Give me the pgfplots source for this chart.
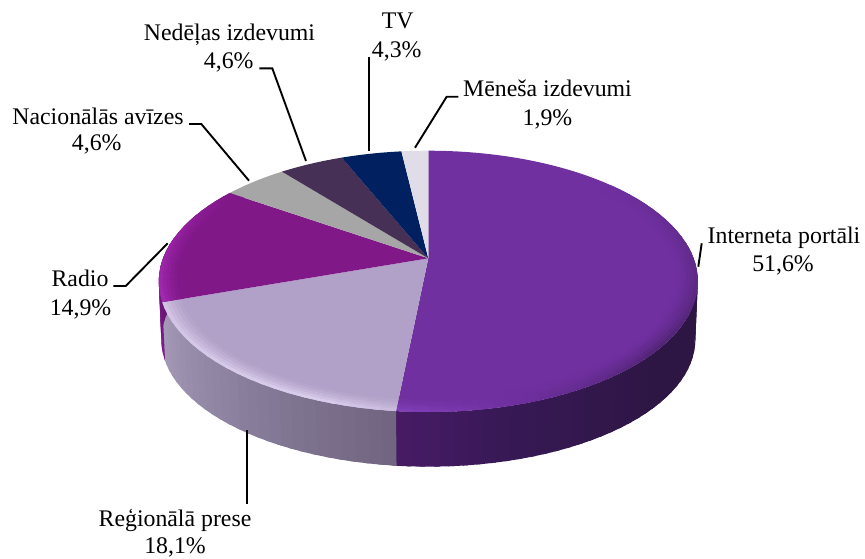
\documentclass[border=0pt]{standalone}
\usepackage{fontspec}
\usepackage{pgfplots}
\usepackage{pgfplotstable}
\pgfplotsset{compat=1.18}
\setmainfont{Liberation Serif}

\tikzset{
  lbl/.style={font=\fontsize{23.8}{27}\selectfont, inner sep=0pt, anchor=base},
  leader/.style={black, line width=1.9pt},
}

% Media shares: percentage and top-face colour of each slice, clockwise from twelve o'clock
\pgfplotstableread{
pct   r   g   b
51.6  112 48  160
18.1  177 160 199
14.9  128 24  136
4.6   166 166 166
4.6   71  48  85
4.3   0   32  96
1.9   224 220 232
}\slices

% Perspective projection of the top disc (radius factor #2) and of the base circle
\pgfmathdeclarefunction{topx}{2}{\pgfmathparse{428.3+265.3*#2*sin(#1)/(1+0.1764*#2*cos(#1))}}
\pgfmathdeclarefunction{topy}{2}{\pgfmathparse{258.3-126.6*#2*cos(#1)/(1+0.1764*#2*cos(#1))}}
\pgfmathdeclarefunction{botx}{1}{\pgfmathparse{428.3+263.1*sin(#1)/(1+0.17*cos(#1))}}
\pgfmathdeclarefunction{boty}{1}{\pgfmathparse{318.1-123.3*cos(#1)/(1+0.17*cos(#1))}}

% One flat unstroked polygon with an integer RGB colour
\newcommand{\Quad}[4]{%
  \edef\cmd{\noexpand\addplot[forget plot,
    fill={rgb,255:red,#2;green,#3;blue,#4}, draw=none]
    coordinates {#1} -- cycle;}\cmd}

\def\splitRGB#1,#2,#3;#4#5#6{\def#4{#1}\def#5{#2}\def#6{#3}}

% Wall of the cake between two angles, colour running from one RGB triple to another;
% each strip runs a little under the next one so that no seams show
\newcommand{\SideStrips}[4]{%
  \splitRGB#3;\sR\sG\sB
  \splitRGB#4;\eR\eG\eB
  \pgfmathtruncatemacro\nS{max(1,round(abs(#2-#1)/2.5))}%
  \foreach \i in {1,...,\nS}{%
    \pgfmathsetmacro\tv{(\i-0.5)/\nS}%
    \pgfmathsetmacro\angA{#1+(#2-#1)*(\i-1)/\nS}%
    \pgfmathsetmacro\angB{#1+(#2-#1)*\i/\nS+1}%
    \pgfmathsetmacro\angM{(\angA+\angB)/2}%
    \pgfmathtruncatemacro\cR{\sR+(\eR-\sR)*\tv}%
    \pgfmathtruncatemacro\cG{\sG+(\eG-\sG)*\tv}%
    \pgfmathtruncatemacro\cB{\sB+(\eB-\sB)*\tv}%
    \pgfmathsetmacro\xa{topx(\angA,1)}\pgfmathsetmacro\ya{topy(\angA,1)}%
    \pgfmathsetmacro\xm{topx(\angM,1)}\pgfmathsetmacro\ym{topy(\angM,1)}%
    \pgfmathsetmacro\xb{topx(\angB,1)}\pgfmathsetmacro\yb{topy(\angB,1)}%
    \pgfmathsetmacro\xc{botx(\angB)}\pgfmathsetmacro\yc{boty(\angB)}%
    \pgfmathsetmacro\xn{botx(\angM)}\pgfmathsetmacro\yn{boty(\angM)}%
    \pgfmathsetmacro\xd{botx(\angA)}\pgfmathsetmacro\yd{boty(\angA)}%
    \Quad{(\xa,\ya)(\xm,\ym)(\xb,\yb)(\xc,\yc)(\xn,\yn)(\xd,\yd)}{\cR}{\cG}{\cB}%
  }}

% Bevel along the rim: base colour inside, fading outwards to a target colour that varies with the angle
\newcommand{\RimStrips}[5]{%
  \splitRGB#3;\bR\bG\bB
  \splitRGB#4;\sR\sG\sB
  \splitRGB#5;\eR\eG\eB
  \pgfmathtruncatemacro\nS{max(1,round(abs(#2-#1)/3))}%
  \foreach \i in {1,...,\nS}{%
    \pgfmathsetmacro\tv{(\i-0.5)/\nS}%
    \pgfmathsetmacro\angA{#1+(#2-#1)*(\i-1)/\nS}%
    \pgfmathsetmacro\angB{min(#2,#1+(#2-#1)*\i/\nS+0.8)}%
    \foreach \j in {1,...,6}{%
      \pgfmathsetmacro\ra{0.92+0.01333*(\j-1)}%
      \pgfmathsetmacro\rb{\j==6 ? 1 : 0.92+0.01333*\j+0.004}%
      \pgfmathsetmacro\wt{pow((\j-0.5)/6,1.5)}%
      \pgfmathtruncatemacro\cR{\bR+((\sR+(\eR-\sR)*\tv)-\bR)*\wt}%
      \pgfmathtruncatemacro\cG{\bG+((\sG+(\eG-\sG)*\tv)-\bG)*\wt}%
      \pgfmathtruncatemacro\cB{\bB+((\sB+(\eB-\sB)*\tv)-\bB)*\wt}%
      \pgfmathsetmacro\xa{topx(\angA,\ra)}\pgfmathsetmacro\ya{topy(\angA,\ra)}%
      \pgfmathsetmacro\xb{topx(\angB,\ra)}\pgfmathsetmacro\yb{topy(\angB,\ra)}%
      \pgfmathsetmacro\xc{topx(\angB,\rb)}\pgfmathsetmacro\yc{topy(\angB,\rb)}%
      \pgfmathsetmacro\xd{topx(\angA,\rb)}\pgfmathsetmacro\yd{topy(\angA,\rb)}%
      \Quad{(\xa,\ya)(\xb,\yb)(\xc,\yc)(\xd,\yd)}{\cR}{\cG}{\cB}%
    }%
  }}

\begin{document}
\begin{tikzpicture}
\useasboundingbox (0,0) rectangle (865pt,558pt);
\begin{axis}[
  anchor=south west, at={(0,0)},
  scale only axis, width=865pt, height=558pt,
  xmin=0, xmax=865, ymin=0, ymax=558, y dir=reverse,
  hide axis, clip=false,
]
% Cumulative angle after each slice
\xdef\runningPct{0}
\foreach \row in {0,...,6}{%
  \pgfplotstablegetelem{\row}{pct}\of\slices
  \pgfmathsetmacro\sumPct{\runningPct+\pgfplotsretval}%
  \xdef\runningPct{\sumPct}%
  \pgfmathsetmacro\ang{3.6*\sumPct}%
  \expandafter\xdef\csname cum\row\endcsname{\ang}%
}
\edef\cumI{\csname cum0\endcsname}
\edef\cumR{\csname cum1\endcsname}
\edef\cumA{\csname cum2\endcsname}

% Wall, from the far right round the front to the far left
\SideStrips{82}{130}{48,24,70}{46,22,68}
\SideStrips{130}{165}{46,22,68}{55,25,85}
\SideStrips{165}{\cumI}{55,25,85}{72,28,102}
\SideStrips{\cumI}{\cumR}{112,100,128}{166,156,186}
\SideStrips{\cumR}{278}{128,26,140}{100,20,112}

% Top face, one wedge per table row
\xdef\prevAng{0}
\foreach \row in {0,...,6}{%
  \pgfplotstablegetelem{\row}{r}\of\slices\edef\cR{\pgfplotsretval}%
  \pgfplotstablegetelem{\row}{g}\of\slices\edef\cG{\pgfplotsretval}%
  \pgfplotstablegetelem{\row}{b}\of\slices\edef\cB{\pgfplotsretval}%
  \edef\endAng{\csname cum\row\endcsname}%
  \pgfmathtruncatemacro\nS{max(2,round((\endAng-\prevAng)/2.5))}%
  \def\pts{(428.3,258.3)}%
  \pgfplotsforeachungrouped \q in {0,...,\nS}{%
    \pgfmathsetmacro\thet{\prevAng+(\endAng-\prevAng)*\q/\nS}%
    \pgfmathsetmacro\px{topx(\thet,1)}\pgfmathsetmacro\py{topy(\thet,1)}%
    \edef\pts{\pts(\px,\py)}%
  }%
  \Quad{\pts}{\cR}{\cG}{\cB}%
  \xdef\prevAng{\endAng}%
}

% Bevel highlights and shadows along the front of the rim
\RimStrips{50}{130}{112,48,160}{112,48,160}{78,36,112}
\RimStrips{130}{165}{112,48,160}{78,36,112}{112,48,160}
\RimStrips{165}{\cumI}{112,48,160}{112,48,160}{132,66,188}
\RimStrips{\cumI}{200}{177,160,199}{205,190,225}{224,212,242}
\RimStrips{200}{\cumR}{177,160,199}{224,212,242}{214,200,232}
\RimStrips{\cumR}{285}{128,24,136}{168,44,184}{150,32,162}
\RimStrips{285}{\cumA}{128,24,136}{150,32,162}{128,24,136}

% Leader lines
\addplot[forget plot, leader] coordinates {(701.7,243.3)(698.3,266.7)};
\addplot[forget plot, leader] coordinates {(246.7,430)(246.7,503.5)};
\addplot[forget plot, leader] coordinates {(113.3,286)(125.7,286)(167.7,243.3)};
\addplot[forget plot, leader] coordinates {(189,124)(201.3,124)(249,180.7)};
\addplot[forget plot, leader] coordinates {(259.3,68.3)(272.3,68.3)(306,161)};
\addplot[forget plot, leader] coordinates {(369.3,56.7)(369.3,150.7)};
\addplot[forget plot, leader] coordinates {(458.3,96.7)(446.7,96.7)(415,147.7)};

% Slice labels
\node[lbl] at (axis cs:784,243.3) {Interneta portāli};
\node[lbl] at (axis cs:783,271.7) {51,6\%};
\node[lbl] at (axis cs:175,526.7) {Reģionālā prese};
\node[lbl] at (axis cs:175,553.3) {18,1\%};
\node[lbl] at (axis cs:80,286.7) {Radio};
\node[lbl] at (axis cs:80.5,315) {14,9\%};
\node[lbl] at (axis cs:98,124) {Nacionālās avīzes};
\node[lbl] at (axis cs:96.7,150.7) {4,6\%};
\node[lbl] at (axis cs:229.5,40.7) {Nedēļas izdevumi};
\node[lbl] at (axis cs:228.7,68.3) {4,6\%};
\node[lbl] at (axis cs:397.7,28.3) {TV};
\node[lbl] at (axis cs:396.7,57.3) {4,3\%};
\node[lbl] at (axis cs:547.5,96.7) {Mēneša izdevumi};
\node[lbl] at (axis cs:547.5,125) {1,9\%};
\end{axis}
\end{tikzpicture}
\end{document}
